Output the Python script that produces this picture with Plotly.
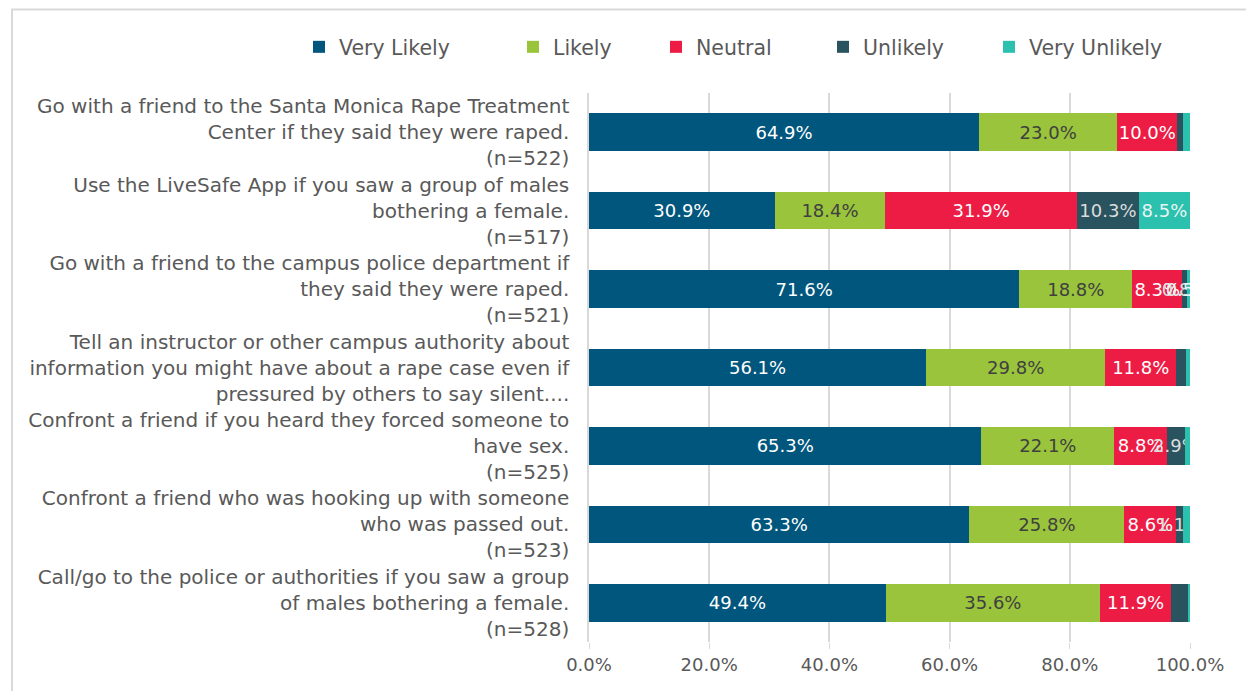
import plotly.graph_objects as go

categories = [
    "Go with a friend to the Santa Monica Rape Treatment<br>Center if they said they were raped.<br>(n=522)",
    "Use the LiveSafe App if you saw a group of males<br>bothering a female.<br>(n=517)",
    "Go with a friend to the campus police department if<br>they said they were raped.<br>(n=521)",
    "Tell an instructor or other campus authority about<br>information you might have about a rape case even if<br>pressured by others to say silent....",
    "Confront a friend if you heard they forced someone to<br>have sex.<br>(n=525)",
    "Confront a friend who was hooking up with someone<br>who was passed out.<br>(n=523)",
    "Call/go to the police or authorities if you saw a group<br>of males bothering a female.<br>(n=528)",
]

very_likely = [64.9, 30.9, 71.6, 56.1, 65.3, 63.3, 49.4]
likely = [23.0, 18.4, 18.8, 29.8, 22.1, 25.8, 35.6]
neutral = [10.0, 31.9, 8.3, 11.8, 8.8, 8.6, 11.9]
unlikely = [1.0, 10.3, 0.8, 1.7, 2.9, 1.1, 2.7]
very_unlikely = [1.1, 8.5, 0.5, 0.6, 0.9, 1.2, 0.4]

# which data labels are visible in the original
show_unlikely = [False, True, True, False, True, True, False]
show_very_unlikely = [False, True, True, False, False, False, False]

series = [
    ("Very Likely", very_likely, "#00567d", "white", None),
    ("Likely", likely, "#99c43b", "#404040", None),
    ("Neutral", neutral, "#ec1c45", "white", None),
    ("Unlikely", unlikely, "#29535f", "#dcdcdc", show_unlikely),
    ("Very Unlikely", very_unlikely, "#2cc0ae", "#e6f6f4", show_very_unlikely),
]

# the page body adds an 8px offset, so positions are the screenshot's minus 8
OFF = 8
FW, FH = 1254 - OFF, 691 - OFF
L, R, T, B = 589 - OFF, 1190 - OFF, 93 - OFF, 642 - OFF
W, H = R - L, B - T
legend_px = [299, 513, 656, 823, 989]   # left edge of each legend entry (screen px)

fig = go.Figure()
legends = {}
for k, (name, vals, color, tcolor, mask) in enumerate(series):
    txt = [f"{v:.1f}%" if (mask is None or mask[i]) else "" for i, v in enumerate(vals)]
    lg = "legend" if k == 0 else f"legend{k + 1}"
    fig.add_trace(go.Bar(
        name=name, y=categories, x=[v / 100 for v in vals], orientation="h",
        marker=dict(color=color, line=dict(width=0)),
        text=txt, textposition="inside", insidetextanchor="middle", textangle=0,
        textfont=dict(color=tcolor, size=18, family="DejaVu Sans"),
        legend=lg, showlegend=True,
    ))
    legends[lg] = dict(orientation="h", x=(legend_px[k] - OFF - L) / W, xanchor="left",
                       y=(B - (47 - OFF)) / H, yanchor="middle", bgcolor="rgba(0,0,0,0)",
                       font=dict(size=20.5, color="#595959"), itemwidth=30, visible=True)

fig.update_layout(
    barmode="stack",
    bargap=0.52,
    width=FW, height=FH,
    showlegend=True,
    margin=dict(l=L, r=FW - R, t=T, b=FH - B, autoexpand=False),
    paper_bgcolor="white", plot_bgcolor="white",
    font=dict(family="DejaVu Sans", size=19, color="#595959"),
    uniformtext=dict(minsize=18, mode="show"),
    shapes=[dict(type="rect", xref="paper", yref="paper",
                 x0=(12 - OFF - L) / W, x1=(1265 - L) / W,
                 y0=(B - 700) / H, y1=(B - 1.5) / H,
                 line=dict(color="#d9d9d9", width=2), layer="below")],
    **legends,
)
fig.update_xaxes(range=[0, 1], tickformat=".1%", dtick=0.2, showgrid=True,
                 gridcolor="#d9d9d9", gridwidth=1.5, zeroline=False,
                 ticks="outside", ticklen=6, tickcolor="#d9d9d9", automargin=False,
                 tickfont=dict(size=18, color="#595959"))
fig.update_yaxes(autorange="reversed", showline=True, linecolor="#d9d9d9",
                 linewidth=1.5, ticks="", ticklabelstandoff=14, automargin=False,
                 tickfont=dict(size=20, color="#595959"))

fig.write_html("out.html")
